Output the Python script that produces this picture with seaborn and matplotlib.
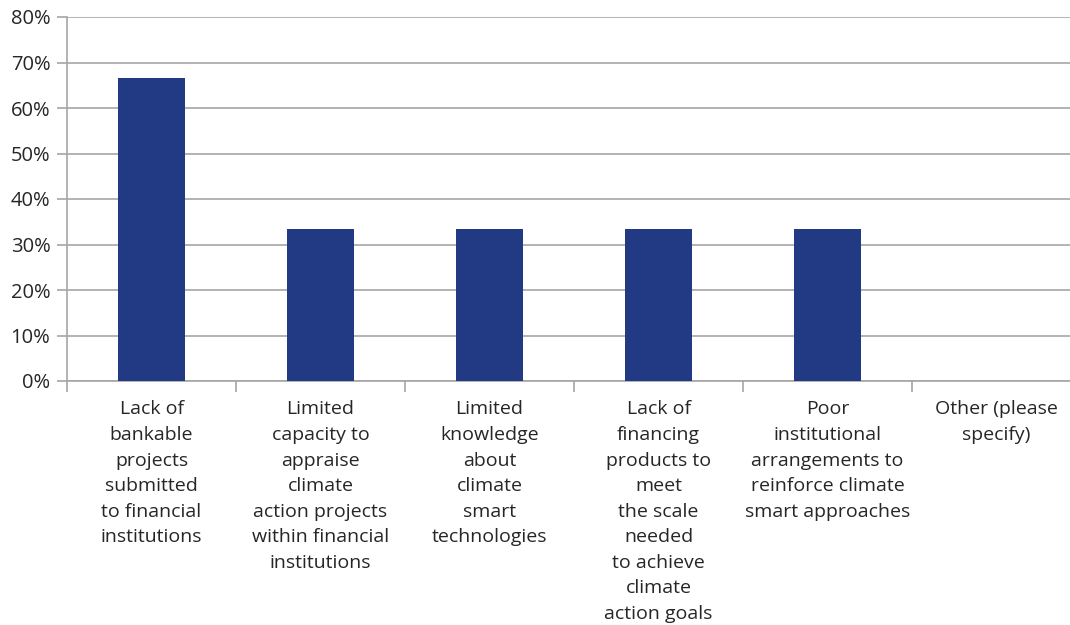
import matplotlib
matplotlib.use("Agg")
import matplotlib.pyplot as plt
from matplotlib.ticker import PercentFormatter, FixedLocator
import seaborn as sns
import pandas as pd

# data
categories = [
    "Lack of\nbankable\nprojects\nsubmitted\nto financial\ninstitutions",
    "Limited\ncapacity to\nappraise\nclimate\naction projects\nwithin financial\ninstitutions",
    "Limited\nknowledge\nabout\nclimate\nsmart\ntechnologies",
    "Lack of\nfinancing\nproducts to\nmeet\nthe scale\nneeded\nto achieve\nclimate\naction goals",
    "Poor\ninstitutional\narrangements to\nreinforce climate\nsmart approaches",
    "Other (please\nspecify)",
]
shares = [66.7, 33.3, 33.3, 33.3, 33.3, 0.0]

bar_color = "#223A84"
grid_color = "#A6A6A6"

sns.set_style("white")
plt.rcParams["font.family"] = ["Open Sans", "DejaVu Sans"]

df = pd.DataFrame({"category": categories, "share": shares})

fig = plt.figure(figsize=(10.7, 6.25), dpi=100)
# the plot area runs a little past the right edge of the image
ax = fig.add_axes([67 / 1070, 1 - 381 / 625, 1014 / 1070, 364 / 625])

sns.barplot(data=df, x="category", y="share", color=bar_color, width=0.4,
            saturation=1, linewidth=0, ax=ax, zorder=3)

ax.set_ylim(0, 80)
ax.set_xlim(-0.5, len(categories) - 0.5)
ax.set_yticks(range(0, 81, 10))
ax.yaxis.set_major_formatter(PercentFormatter(decimals=0))
ax.grid(axis="y", color=grid_color, linewidth=1.2, zorder=0)

ax.set_xlabel("")
ax.set_ylabel("")

# tick marks sit between the categories
ax.xaxis.set_minor_locator(FixedLocator([i - 0.5 for i in range(len(categories) + 1)]))
ax.tick_params(axis="x", which="major", length=0, pad=14, labelsize=14)
ax.tick_params(axis="x", which="minor", length=8, width=1.2, color=grid_color, bottom=True)
ax.tick_params(axis="y", length=7, width=1.2, color=grid_color, left=True, labelsize=14.5, pad=5)
for lbl in ax.get_xticklabels():
    lbl.set_linespacing(1.54)
    lbl.set_verticalalignment("top")

for side in ["top", "right"]:
    ax.spines[side].set_visible(False)
for side in ["left", "bottom"]:
    ax.spines[side].set_color(grid_color)
    ax.spines[side].set_linewidth(1.2)

fig.savefig("out.png", dpi=100)
